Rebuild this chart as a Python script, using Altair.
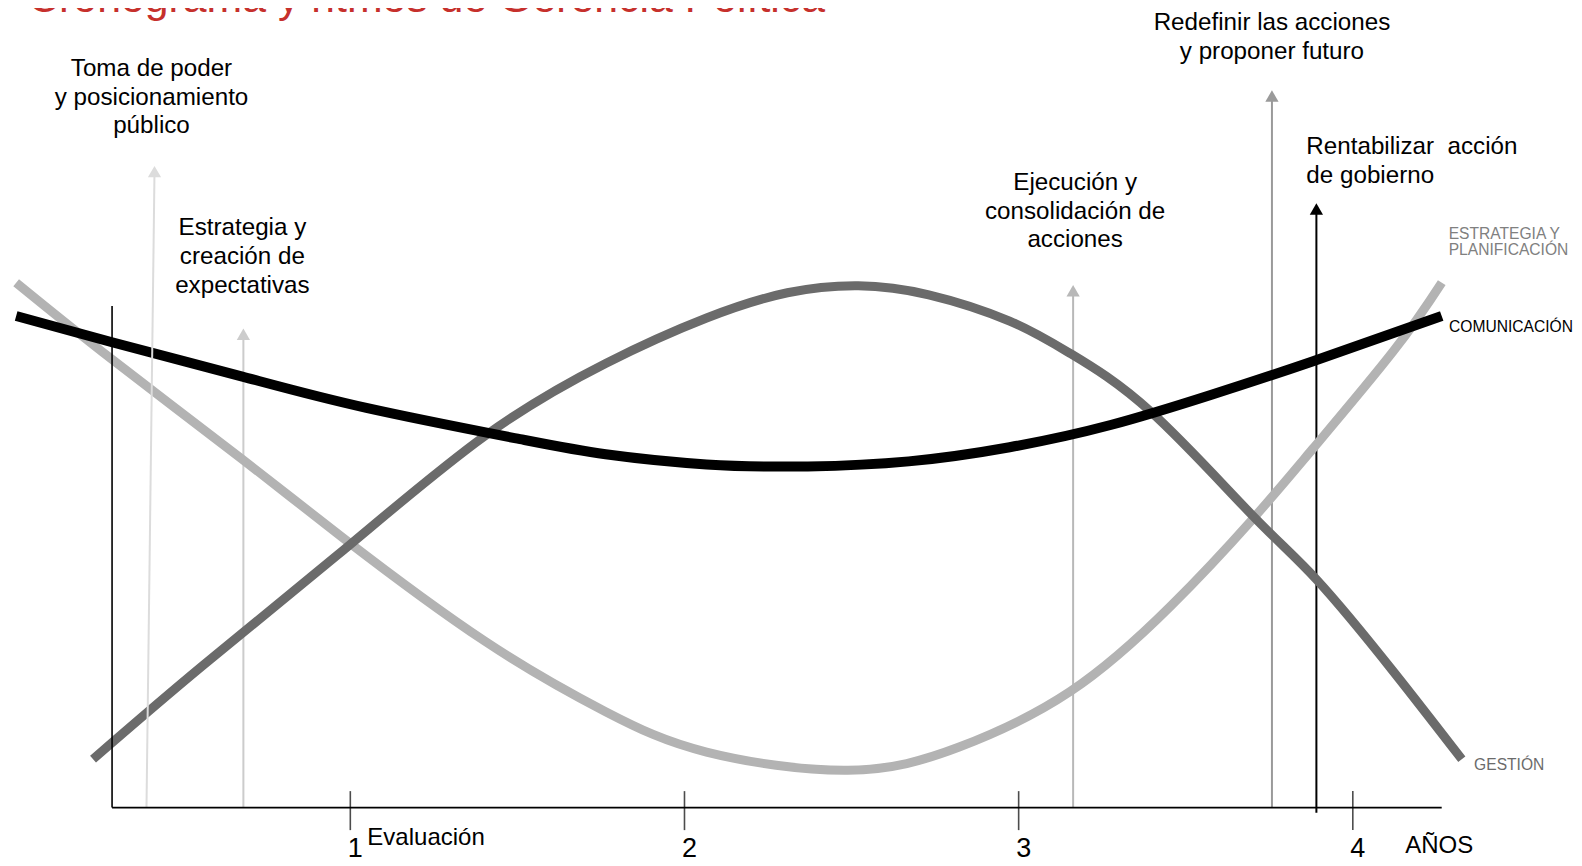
import altair as alt
import pandas as pd

# ---------------- data (x in years, y in relative intensity level) ----------------
com_x = [0.0, 0.287, 0.677, 1.048, 1.508, 1.764, 2.066, 2.369, 2.671, 2.973, 3.275, 3.577, 3.879, 4.266]
com_y = [4.87, 4.61, 4.27, 3.96, 3.65, 3.50, 3.40, 3.38, 3.43, 3.57, 3.79, 4.09, 4.42, 4.87]

ges_x = [0.230, 0.556, 0.979, 1.402, 1.764, 2.066, 2.308, 2.520, 2.731, 2.973, 3.154, 3.396, 3.698, 3.894, 4.121, 4.326]
ges_y = [0.48, 1.40, 2.55, 3.68, 4.40, 4.85, 5.10, 5.17, 5.08, 4.82, 4.50, 3.92, 2.90, 2.25, 1.35, 0.48]

est_x = [0.0, 0.287, 0.677, 0.979, 1.402, 1.764, 2.066, 2.489, 2.822, 3.154, 3.456, 3.698, 3.879, 4.121, 4.266]
est_y = [5.20, 4.44, 3.45, 2.67, 1.65, 0.95, 0.55, 0.37, 0.60, 1.15, 2.00, 2.85, 3.55, 4.52, 5.20]

arrow_names = ["Toma de poder", "Estrategia", "Ejecución", "Redefinir", "Rentabilizar"]
arrow_x_bottom = [0.390, 0.680, 3.163, 3.758, 3.891]
arrow_x_top = [0.414, 0.680, 3.163, 3.758, 3.891]
arrow_y_bottom = [0.0, 0.0, 0.0, 0.0, -0.05]
arrow_y_top = [6.30, 4.69, 5.12, 7.05, 5.93]

arrow_labels = ["Toma de poder\ny posicionamiento\npúblico",
                "Estrategia y\ncreación de\nexpectativas",
                "Ejecución y\nconsolidación de\nacciones",
                "Redefinir las acciones\ny proponer futuro"]
arrow_label_x = [0.405, 0.677, 3.169, 3.758]
arrow_label_y = [7.25, 5.67, 6.12, 7.70]

rent_label = "Rentabilizar\u00a0 acción\nde gobierno"
rent_label_x = 3.861
rent_label_y = 6.47

year_ticks = [1, 2, 3, 4]
axis_x_start, axis_x_end = 0.287, 4.266
axis_y_top = 4.97

series_labels = ["ESTRATEGIA Y\nPLANIFICACIÓN", "COMUNICACIÓN", "GESTIÓN"]
series_label_x = [4.287, 4.288, 4.363]
series_label_y = [5.63, 4.71, 0.37]

title_text = "Cronograma y ritmos de Gerencia Política"
title_x, title_y = 0.036, 7.88

FONT = "Arial, Liberation Sans, Helvetica, sans-serif"

xs = alt.Scale(domain=[-0.0244, 4.6619], nice=False, zero=False)
ys = alt.Scale(domain=[-0.499, 7.9208], nice=False, zero=False)


def X(f):
    return alt.X(f, type="quantitative", scale=xs, axis=None)


def Y(f):
    return alt.Y(f, type="quantitative", scale=ys, axis=None)


def curve(xv, yv, color, width):
    df = pd.DataFrame({"x": xv, "y": yv, "i": range(len(xv))})
    return alt.Chart(df).mark_line(interpolate="natural", color=color, strokeWidth=width,
                                   strokeCap="butt").encode(x=X("x"), y=Y("y"), order="i:Q")


est = curve(est_x, est_y, "#b3b3b3", 9)
ges = curve(ges_x, ges_y, "#6b6b6b", 9)
com = curve(com_x, com_y, "#000000", 10)

# axes
axis_df = pd.DataFrame({"x": [axis_x_start], "x2": [axis_x_end], "y": [0.0], "ytop": [axis_y_top]})
h_axis = alt.Chart(axis_df).mark_rule(color="#000", strokeWidth=1.6).encode(x=X("x"), x2="x2", y=Y("y"))
v_axis = alt.Chart(axis_df).mark_rule(color="#000", strokeWidth=1.6).encode(x=X("x"), y=Y("y"), y2="ytop")

ticks_df = pd.DataFrame({"yr": year_ticks, "lab": [str(t) for t in year_ticks], "lvl": [0.0] * 4,
                         "ly": [-0.49] * 4})
ticks = alt.Chart(ticks_df).mark_tick(color="#000", thickness=1.6, size=39, orient="vertical",
                                      yOffset=3).encode(x=X("yr"), y=Y("lvl"))
tick_labels = alt.Chart(ticks_df).mark_text(font=FONT, fontSize=27, color="#000", dx=5,
                                            baseline="alphabetic").encode(x=X("yr"), y=Y("ly"), text="lab")

# arrows
arr_df = pd.DataFrame({"name": arrow_names, "xb": arrow_x_bottom, "xt": arrow_x_top,
                       "yb": arrow_y_bottom, "yt": arrow_y_top})
arr_colors = ["#dcdcdc", "#cccccc", "#b8b8b8", "#9a9a9a", "#000000"]
acol = alt.Color("name:N", scale=alt.Scale(domain=arrow_names, range=arr_colors), legend=None)


def arrows(front):
    base = alt.Chart(arr_df)
    cond = "datum.name == 'Toma de poder'" if front else "datum.name != 'Toma de poder'"
    lines = base.transform_filter(cond).mark_rule(strokeWidth=2).encode(
        x=X("xb"), x2="xt", y=Y("yb"), y2="yt", color=acol)
    heads = base.transform_filter(cond).mark_point(shape="triangle-up", filled=True, size=175,
                                                   opacity=1).encode(x=X("xt"), y=Y("yt"), color=acol)
    return [lines, heads]


# labels
lab_df = pd.DataFrame({"t": arrow_labels, "x": arrow_label_x, "y": arrow_label_y})
arrow_text = alt.Chart(lab_df).mark_text(font=FONT, fontSize=24.2, color="#000", align="center",
                                         baseline="alphabetic", lineBreak="\n", lineHeight=28.8).encode(
    x=X("x"), y=Y("y"), text="t")

rent_df = pd.DataFrame({"t": [rent_label], "x": [rent_label_x], "y": [rent_label_y]})
rent_text = alt.Chart(rent_df).mark_text(font=FONT, fontSize=24.2, color="#000", align="left",
                                         baseline="alphabetic", lineBreak="\n", lineHeight=28.8).encode(
    x=X("x"), y=Y("y"), text="t")

misc_df = pd.DataFrame({"t": ["Evaluación"], "x": [1.051], "y": [-0.37]})
eval_text = alt.Chart(misc_df).mark_text(font=FONT, fontSize=24, color="#000", align="left",
                                         baseline="alphabetic").encode(x=X("x"), y=Y("y"), text="t")
anos_df = pd.DataFrame({"t": ["AÑOS"], "x": [4.157], "y": [-0.45]})
anos_text = alt.Chart(anos_df).mark_text(font=FONT, fontSize=24, color="#000", align="left",
                                         baseline="alphabetic").encode(x=X("x"), y=Y("y"), text="t")

ser_df = pd.DataFrame({"t": series_labels, "x": series_label_x, "y": series_label_y,
                       "s": ["est", "com", "ges"]})
ser_text = alt.Chart(ser_df).mark_text(font=FONT, fontSize=15.6, align="left", baseline="alphabetic",
                                       lineBreak="\n", lineHeight=15.7).encode(
    x=X("x"), y=Y("y"), text="t",
    color=alt.Color("s:N", scale=alt.Scale(domain=["est", "com", "ges"],
                                           range=["#808080", "#000000", "#6b6b6b"]), legend=None))

title_df = pd.DataFrame({"t": [title_text], "x": [title_x], "y": [title_y]})
title = alt.Chart(title_df).mark_text(font=FONT, fontSize=42.8, color="#c6302c", align="left",
                                      baseline="alphabetic").encode(x=X("x"), y=Y("y"), text="t")

chart = alt.layer(
    *arrows(False), est, ges, com, *arrows(True), h_axis, v_axis, ticks,
    tick_labels, arrow_text, rent_text, eval_text, anos_text, ser_text, title
).properties(
    width=1566, height=850, padding=0,
    autosize=alt.AutoSizeParams(type="none")
).configure_view(stroke=None).resolve_scale(color="independent")

chart.save("out.html", embed_options={"renderer": "svg", "actions": False})
